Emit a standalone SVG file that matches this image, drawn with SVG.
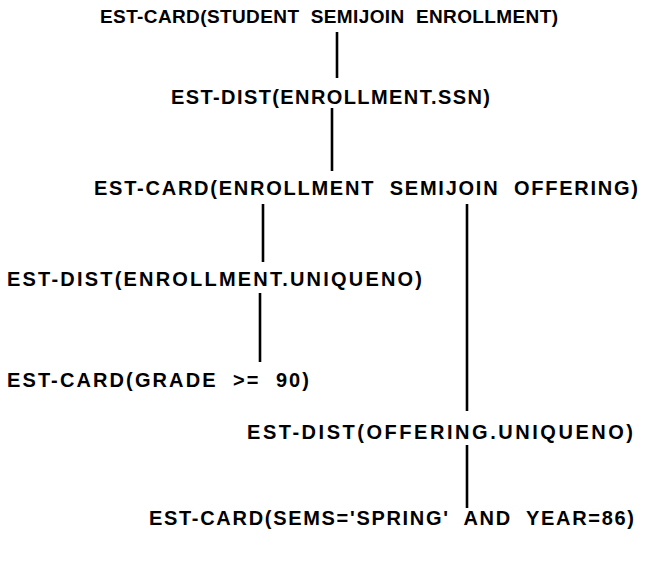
<svg xmlns="http://www.w3.org/2000/svg" width="660" height="562" viewBox="0 0 660 562">
<style>
.t{font-family:"Liberation Sans",Arial,sans-serif;font-weight:bold;font-size:20px;fill:#000}
.c line{stroke:#000;stroke-width:2.6}
</style>
<rect width="660" height="562" fill="#fff"/>
<g class="c" id="connectors">
<line x1="337" y1="32" x2="337" y2="78"/>
<line x1="332" y1="108" x2="332" y2="171"/>
<line x1="263" y1="204" x2="263" y2="262"/>
<line x1="467" y1="204" x2="467" y2="411"/>
<line x1="260" y1="293" x2="260" y2="362"/>
<line x1="467" y1="445" x2="467" y2="508"/>
</g>
<g id="n1"><text class="t" x="100" y="23" style="font-size:19px" textLength="458" lengthAdjust="spacing" xml:space="preserve">EST-CARD(STUDENT  SEMIJOIN  ENROLLMENT)</text></g>
<g id="n2"><text class="t" x="171" y="104" textLength="319" lengthAdjust="spacing">EST-DIST(ENROLLMENT.SSN)</text></g>
<g id="n3"><text class="t" x="94" y="195" textLength="544" lengthAdjust="spacing" xml:space="preserve">EST-CARD(ENROLLMENT  SEMIJOIN  OFFERING)</text></g>
<g id="n4"><text class="t" x="7" y="286" textLength="415" lengthAdjust="spacing">EST-DIST(ENROLLMENT.UNIQUENO)</text></g>
<g id="n5"><text class="t" x="7" y="387" textLength="302" lengthAdjust="spacing" xml:space="preserve">EST-CARD(GRADE  &gt;=  90)</text></g>
<g id="n6"><text class="t" x="247" y="439" textLength="386" lengthAdjust="spacing">EST-DIST(OFFERING.UNIQUENO)</text></g>
<g id="n7"><text class="t" x="149" y="525" textLength="485" lengthAdjust="spacing" xml:space="preserve">EST-CARD(SEMS='SPRING'  AND  YEAR=86)</text></g>
</svg>
